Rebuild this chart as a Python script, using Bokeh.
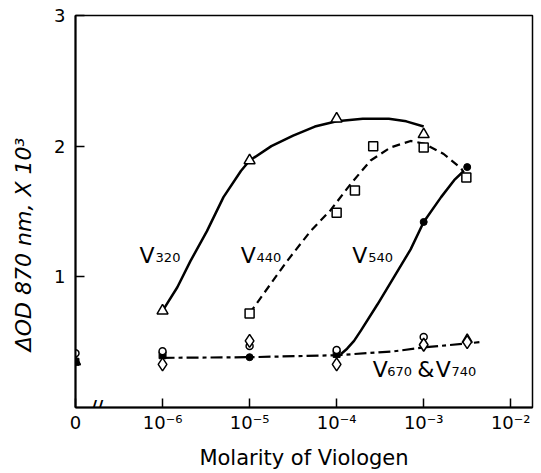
from bokeh.plotting import figure
from bokeh.models import FixedTicker, Range1d, Label
from bokeh.core.properties import value
from bokeh.embed import file_html
from bokeh.resources import INLINE

# x values are log10(molarity of viologen); -7 stands for the "0" (no viologen) position
x_ticks = [-7, -6, -5, -4, -3, -2]
x_tick_labels = ["0", "10⁻⁶", "10⁻⁵", "10⁻⁴", "10⁻³", "10⁻²"]
y_ticks = [1, 2, 3]

# V320 (open triangles, solid curve)
v320_x = [-6, -5, -4, -3]
v320_y = [0.74, 1.89, 2.21, 2.09]
v320_curve_x = [-6.0, -5.83, -5.68, -5.49, -5.30, -5.10, -5.0, -4.75, -4.5, -4.25, -4.0, -3.7, -3.4, -3.2, -3.0]
v320_curve_y = [0.74, 0.92, 1.12, 1.35, 1.61, 1.81, 1.89, 2.00, 2.08, 2.15, 2.19, 2.21, 2.21, 2.19, 2.15]

# V440 (open squares, dashed curve)
v440_x = [-5, -4, -3.79, -3.58, -3, -2.51]
v440_y = [0.72, 1.49, 1.66, 2.00, 1.99, 1.76]
v440_curve_x = [-5.0, -4.84, -4.57, -4.30, -4.07, -3.84, -3.61, -3.38, -3.15, -3.0, -2.77, -2.57, -2.54]
v440_curve_y = [0.72, 0.87, 1.12, 1.35, 1.51, 1.71, 1.89, 1.99, 2.04, 2.02, 1.94, 1.83, 1.80]

# V540 (filled circles, solid curve)
v540_x = [-5, -3, -2.5]
v540_y = [0.385, 1.42, 1.84]
v540_curve_x = [-3.95, -3.88, -3.80, -3.72, -3.53, -3.34, -3.15, -3.0, -2.80, -2.65, -2.54]
v540_curve_y = [0.41, 0.45, 0.51, 0.59, 0.79, 1.00, 1.21, 1.42, 1.61, 1.74, 1.81]

# small filled squares
fsq_x = [-7, -6, -4]
fsq_y = [0.35, 0.40, 0.41]

# V670 & V740 (open circles, open diamonds, dash-dot curve)
circ_x = [-7, -6, -5, -4, -3]
circ_y = [0.415, 0.43, 0.47, 0.44, 0.54]
diam_x = [-6, -5, -4, -3, -2.5]
diam_y = [0.33, 0.51, 0.33, 0.48, 0.50]
tri0_x = [-7, -2.5]
tri0_y = [0.35, 0.52]
base_curve_x = [-6.0, -5.0, -4.0, -3.34, -3.0, -2.5, -2.36]
base_curve_y = [0.38, 0.385, 0.40, 0.43, 0.46, 0.49, 0.50]

# curve labels: main letter and subscript parts
lab_main = ["V", "V", "V", "V", "&", "V"]
lab_main_x = [-6.264, -5.103, -3.82, -3.586, -3.075, -2.862]
lab_main_y = [1.16, 1.16, 1.16, 0.29, 0.29, 0.29]
lab_sub = ["320", "440", "540", "670", "740"]
lab_sub_x = [-6.08, -4.92, -3.636, -3.42, -2.68]
lab_sub_y = [1.16, 1.16, 1.16, 0.29, 0.29]

FONT = "DejaVu Sans"

p = figure(width=541, height=473, output_backend="svg", toolbar_location=None,
           x_range=Range1d(-7, -1.75), y_range=Range1d(0, 3),
           min_border_left=75, min_border_right=9, min_border_top=15, min_border_bottom=66)
p.grid.visible = False
p.outline_line_color = "black"
p.outline_line_width = 1.5
p.background_fill_color = "white"
p.border_fill_color = "white"

for ax in (p.xaxis[0], p.yaxis[0]):
    ax.axis_line_width = 2
    ax.axis_line_color = "black"
    ax.major_tick_line_width = 1.5
    ax.major_tick_out = 0
    ax.major_tick_in = 9
    ax.minor_tick_line_color = None
    ax.major_label_text_font = FONT
    ax.major_label_text_font_size = "18px"
    ax.major_label_text_color = "black"
    ax.axis_label_text_font = FONT
    ax.axis_label_text_color = "black"

p.xaxis.ticker = FixedTicker(ticks=x_ticks)
p.xaxis.major_label_overrides = {t: l for t, l in zip(x_ticks, x_tick_labels)}
p.xaxis.major_label_standoff = 4
p.xaxis.axis_label = "Molarity of Viologen"
p.xaxis.axis_label_text_font_size = "21px"
p.xaxis.axis_label_text_font_style = "normal"
p.xaxis.axis_label_standoff = 10

p.yaxis.ticker = FixedTicker(ticks=y_ticks)
p.yaxis.major_label_standoff = 10
# trailing em spaces move the visible title a little below the frame centre, as in the original
p.yaxis.axis_label = "ΔOD 870 nm, X 10³\u2003\u2003\u2003"
p.yaxis.axis_label_text_font_size = "22px"
p.yaxis.axis_label_text_font_style = "italic"
p.yaxis.axis_label_standoff = 15

# curves
p.line(v320_curve_x, v320_curve_y, line_color="black", line_width=2.5)
p.line(v440_curve_x, v440_curve_y, line_color="black", line_width=2.2, line_dash="8 5")
p.line(v540_curve_x, v540_curve_y, line_color="black", line_width=2.5)
p.line(base_curve_x, base_curve_y, line_color="black", line_width=2.2, line_dash="12 4 4 4")

# markers
p.scatter(v320_x, v320_y, marker="triangle", size=11, fill_color="white", line_color="black", line_width=1.5)
p.scatter(tri0_x, tri0_y, marker="triangle", size=10, fill_color="white", line_color="black", line_width=1.5)
p.scatter(v440_x, v440_y, marker="square", size=9, fill_color="white", line_color="black", line_width=1.5)
p.scatter(fsq_x, fsq_y, marker="square", size=7, fill_color="black", line_color="black")
p.scatter(circ_x, circ_y, marker="circle", size=7, fill_color="white", line_color="black", line_width=1.5)
p.scatter(diam_x, diam_y, marker="diamond", size=13, fill_color="white", line_color="black", line_width=1.5)
p.scatter(v540_x, v540_y, marker="circle", size=7, fill_color="black", line_color="black")

# curve labels
p.text(lab_main_x, lab_main_y, text=lab_main, text_font=value(FONT), text_font_size="22px",
       text_align="left", text_baseline="alphabetic", text_color="black")
p.text(lab_sub_x, lab_sub_y, text=lab_sub, text_font=value(FONT), text_font_size="13px",
       text_align="left", text_baseline="alphabetic", text_color="black", y_offset=2)

# axis break mark
p.add_layout(Label(x=-6.753, y=0.0, text="//", text_font=FONT, text_font_size="17px",
                   text_font_style="bold", text_align="center", text_baseline="alphabetic",
                   y_offset=1, text_color="black"))

open("out.html", "w").write(file_html(p, INLINE))
